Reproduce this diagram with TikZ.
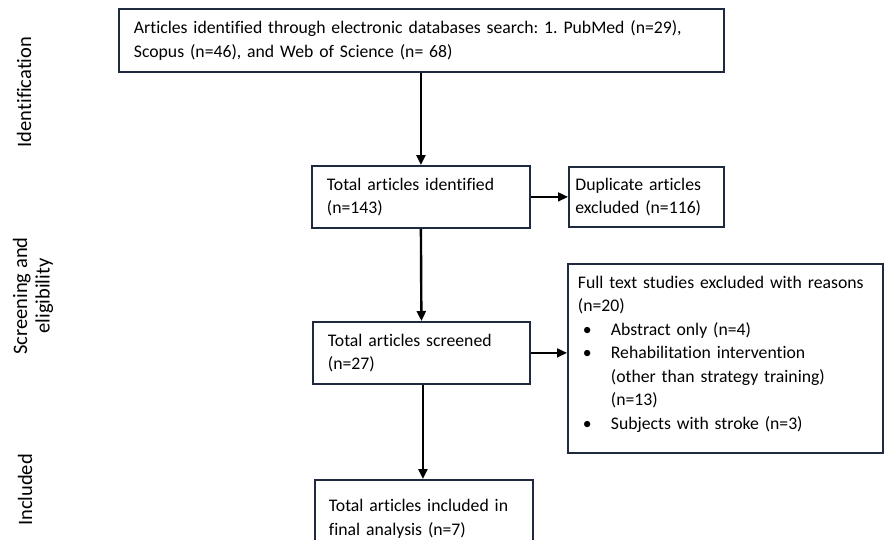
\documentclass[tikz,border=0pt]{standalone}
\usepackage{fontspec}
\setmainfont{Carlito}[Ligatures=NoCommon]
\usetikzlibrary{arrows.meta,calc}
\definecolor{boxline}{RGB}{32,42,62}
\frenchspacing
\tikzset{
  box/.style={draw=boxline, line width=1.8pt, anchor=north west, align=left,
    inner xsep=0pt, inner ysep=0pt, font=\fontsize{17.7}{23.5}\selectfont},
  side/.style={rotate=90, align=center, font=\fontsize{20.5}{22.5}\selectfont},
  arr/.style={line width=2.4pt, -{Triangle[length=10pt,width=9pt]}},
  harr/.style={line width=1.6pt, -{Triangle[length=10pt,width=9pt]}},
}
\begin{document}
\begin{tikzpicture}[x=1pt,y=-1pt]
\useasboundingbox (0,0) rectangle (885,539);
\clip (0,0) rectangle (885,539);
\node[box, minimum width=605pt, minimum height=63pt, text width=575pt] (top) at (118,8)
  {Articles identified through electronic databases search: 1. PubMed (n=29),\\Scopus (n=46), and Web of Science (n= 68)};
\node[box, minimum width=218pt, minimum height=62pt, text width=188pt] (tot) at (311,165)
  {Total articles identified\\(n=143)};
\node[box, minimum width=155pt, minimum height=60pt, text width=142pt] (dup) at (568,166)
  {Duplicate articles\\excluded (n=116)};
\node[box, minimum width=315pt, minimum height=189pt, text width=295pt] (exc) at (567,263)
  {Full text studies excluded with reasons\\(n=20)\\
   \hspace*{5pt}\makebox[28pt][l]{\textbullet}Abstract only (n=4)\\
   \hspace*{5pt}\makebox[28pt][l]{\textbullet}Rehabilitation intervention\\
   \hspace*{33pt}(other than strategy training)\\
   \hspace*{33pt}(n=13)\\
   \hspace*{5pt}\makebox[28pt][l]{\textbullet}Subjects with stroke (n=3)\\[-11.5pt]\mbox{}};
\node[box, minimum width=217pt, minimum height=62pt, text width=187pt] (scr) at (312,321)
  {Total articles screened\\(n=27)};
\node[box, minimum width=218pt, minimum height=78pt, text width=190pt] (inc) at (314,479)
  {Total articles included in\\final analysis (n=7)};
\node[side] (lid) at (24,92) {Identification};
\node[side] (lse) at (33,296) {Screening and\\eligibility};
\node[side] (lin) at (25,490) {Included};
\draw[arr] (top.south -| tot.north) -- (tot.north);
\draw[harr] (tot.east) -- (dup.west);
\draw[arr] (tot.south) -- (scr.north);
\draw[harr] (scr.east) -- (scr.east -| exc.west);
\draw[arr] ($(scr.south)+(1.5,0)$) -- ($(inc.north)+(-1,0)$);
\end{tikzpicture}
\end{document}
